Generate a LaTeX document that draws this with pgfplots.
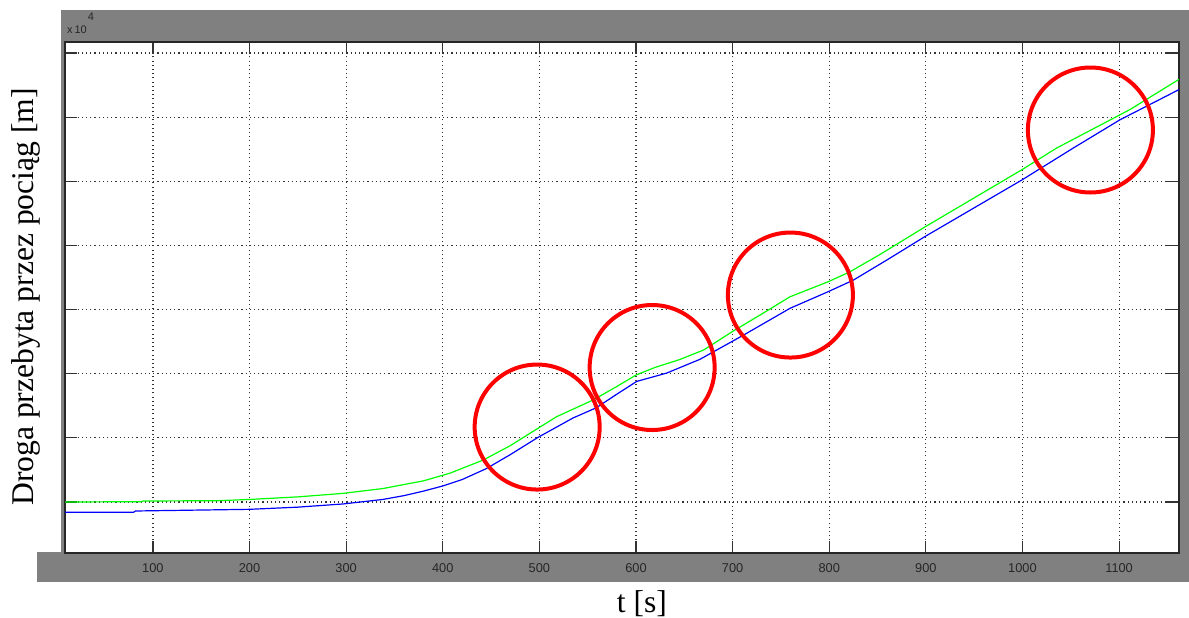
\documentclass[border=0pt]{standalone}
\usepackage{pgfplots}
\pgfplotsset{compat=1.18}
\usepackage{fontspec}
\setmainfont{Liberation Serif}
\newfontfamily\ticksf{Liberation Sans}
\definecolor{mgray}{RGB}{128,128,128}
\definecolor{mgreen}{RGB}{0,255,0}
\definecolor{mblue}{RGB}{0,0,255}
\begin{document}
\begin{tikzpicture}
\useasboundingbox (0pt,0pt) rectangle (594.5pt,308.5pt);
\fill[mgray] (30.5pt,32pt) rectangle (594.5pt,303.5pt);
\fill[mgray] (18.5pt,17.5pt) rectangle (594.5pt,32.5pt);
\begin{axis}[at={(32.5pt,32pt)}, anchor=south west, scale only axis,
  width=557pt, height=255.5pt,
  xmin=9, xmax=1162, ymin=-0.795, ymax=7.172,
  xtick={100,200,...,1100}, ytick={0,...,7}, yticklabels={},
  tick align=inside, major tick length=6pt,
  tick style={black!80, line width=0.6pt},
  grid=major, grid style={black!80, line width=0.6pt, dash pattern=on 0.55pt off 1.55pt},
  axis line style={black!85, line width=0.7pt},
  axis background/.style={fill=white},
  xticklabel style={font=\ticksf\fontsize{6.4}{7}\selectfont, text=black!85, anchor=center, yshift=-7.5pt},
  /pgf/number format/assume math mode=true, /pgf/number format/1000 sep={},
  clip=true]
\addplot[mgreen, line width=0.6pt] coordinates {
(9,0.0) (88,0.005) (90,0.016) (166,0.02) (200,0.04) (250,0.08) (297,0.135)
(338,0.21) (380,0.33) (407.5,0.45) (442,0.655) (470,0.88) (498.6,1.15)
(517.8,1.33) (555.5,1.59) (580,1.80) (600,1.98) (620,2.10) (645,2.22) (670,2.37)
(700,2.66) (730,2.93) (759.4,3.20) (799,3.435) (821.5,3.59) (852.6,3.86) (899.2,4.29)
(999.3,5.18) (1035.5,5.52) (1111.4,6.12) (1162,6.59)};
\addplot[mblue, line width=0.6pt] coordinates {
(9,-0.16) (80,-0.16) (82,-0.14) (200,-0.114) (250,-0.08) (297,-0.03)
(338,0.04) (360,0.1) (380,0.17) (400,0.25) (420,0.35) (445,0.52) (470,0.74) (498.8,1.01)
(534.8,1.31) (559,1.47) (580,1.68) (600.7,1.88) (631.7,2.01) (666.2,2.225) (711,2.60)
(759.4,3.02) (799,3.28) (825,3.46) (859.3,3.77) (899.2,4.14) (999.3,5.02)
(1052.7,5.52) (1101,5.96) (1162,6.43)};
\draw[red, line width=2pt] (axis cs:497.7,1.169) circle[radius=31.25pt];
\draw[red, line width=2pt] (axis cs:616.7,2.097) circle[radius=31.25pt];
\draw[red, line width=2pt] (axis cs:759.8,3.227) circle[radius=31.25pt];
\draw[red, line width=2pt] (axis cs:1070.3,5.80) circle[radius=31.25pt];
\end{axis}
\node[rotate=90, font=\fontsize{15.8}{18}\selectfont] at (13pt,160pt) {Droga przebyta przez pociąg [m]};
\node[font=\fontsize{15.8}{18}\selectfont] at (321pt,6.5pt) {t [s]};
\node[font=\ticksf\fontsize{5.5}{6}\selectfont, inner sep=0pt, text=black!85] at (38.5pt,293.5pt) {x\,10};
\node[font=\ticksf\fontsize{5.5}{6}\selectfont, inner sep=0pt, text=black!85] at (45.5pt,300pt) {4};
\end{tikzpicture}
\end{document}
